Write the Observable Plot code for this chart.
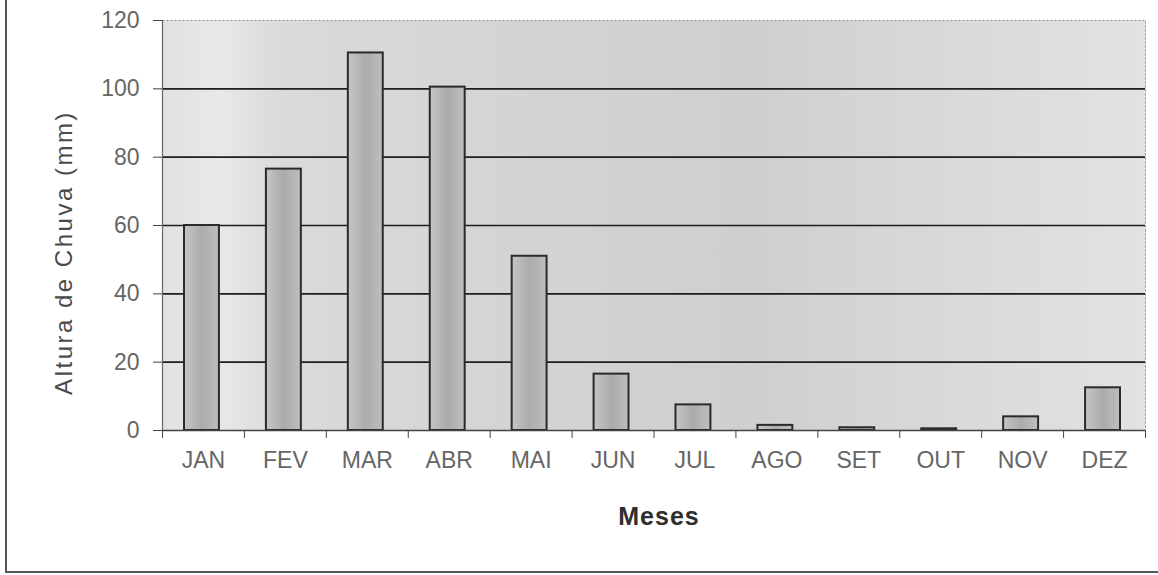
<!DOCTYPE html>
<html>
<head>
<meta charset="utf-8">
<script src="https://cdn.jsdelivr.net/npm/d3@7"></script>
<script src="https://cdn.jsdelivr.net/npm/@observablehq/plot@0.6"></script>
<style>
  html, body { margin: 0; padding: 0; background: #fff; }
  #wrap { position: relative; width: 1158px; height: 575px; overflow: hidden; }
  #border { position: absolute; left: 5px; top: -2px; width: 1160px; height: 573px;
            border-left: 2px solid #555; border-bottom: 2px solid #555; pointer-events: none; }
  svg { font-family: "Liberation Sans", Arial, sans-serif; }
</style>
</head>
<body>
<div id="wrap"><div id="border"></div></div>
<script>
const months = ["JAN","FEV","MAR","ABR","MAI","JUN","JUL","AGO","SET","OUT","NOV","DEZ"];
const rainfall = [60, 76.5, 110.5, 100.5, 51, 16.5, 7.5, 1.5, 0.8, 0.5, 4, 12.5];
const yTicks = [0, 20, 40, 60, 80, 100, 120];
const gridValues = [20, 40, 60, 80, 100];
const yLabel = "Altura de Chuva (mm)";
const xLabel = "Meses";

const data = months.map((m, i) => ({month: m, idx: i, value: rainfall[i]}));

const defs = () => {
  const d = d3.create("svg:defs");
  const bg = d.append("linearGradient").attr("id", "bg").attr("x1", "0").attr("x2", "1").attr("y1", "0").attr("y2", "0");
  [["0%", "#e2e2e2"], ["6%", "#e8e8e8"], ["12%", "#dadada"], ["35%", "#d4d4d4"], ["60%", "#cfcfcf"], ["78%", "#d8d8d8"], ["100%", "#e2e2e2"]]
    .forEach(([o, c]) => bg.append("stop").attr("offset", o).attr("stop-color", c));
  const bar = d.append("linearGradient").attr("id", "bar").attr("x1", "0").attr("x2", "1").attr("y1", "0").attr("y2", "0");
  [["0%", "#c6c6c6"], ["50%", "#ababab"], ["100%", "#bebebe"]]
    .forEach(([o, c]) => bar.append("stop").attr("offset", o).attr("stop-color", c));
  return d.node();
};

const chart = Plot.plot({
  width: 1158,
  height: 575,
  marginLeft: 162,
  marginRight: 13,
  marginTop: 20,
  marginBottom: 145,
  style: {fontFamily: "Liberation Sans, Arial, sans-serif", background: "transparent"},
  x: {domain: [0, 12], axis: null},
  y: {domain: [0, 120], axis: null},
  marks: [
    defs,
    Plot.frame({fill: "url(#bg)", stroke: "#8a8a8a", strokeDasharray: "2,2"}),
    Plot.ruleY(gridValues, {stroke: "#1e1e1e", strokeWidth: 1.6}),
    Plot.rectY(data, {x1: d => d.idx, x2: d => d.idx + 1, y: "value",
      insetLeft: 22, insetRight: 25, fill: "url(#bar)", stroke: "#2a2a2a", strokeWidth: 2}),
    Plot.ruleY([0], {stroke: "#444", strokeWidth: 1.5}),
    Plot.ruleX([0], {stroke: "#666", strokeWidth: 1.2}),
    Plot.axisY({ticks: yTicks, label: null, tickSize: 9, tickPadding: 14, fontSize: 23, color: "#666", stroke: "#444"}),
    Plot.axisX({ticks: d3.range(13), label: null, tickSize: 8, tickFormat: () => "", stroke: "#444"}),
    Plot.axisX({ticks: months.map((m, i) => i + 0.5), label: null, tickSize: 0, tickPadding: 21,
      tickFormat: d => months[Math.floor(d)], fontSize: 23, color: "#666"}),
    Plot.text([yLabel], {frameAnchor: "left", textAnchor: "middle", rotate: -90, dx: -98, dy: 27,
      fontSize: 24, fill: "#4a4a4a"}),
    Plot.text([xLabel], {frameAnchor: "bottom", dx: 5, dy: 94, fontSize: 25, fill: "#2e2e2e", fontWeight: "bold"})
  ]
});
d3.select(chart).selectAll("text").filter(function() { return this.textContent === yLabel; })
  .style("letter-spacing", "2.5px");
d3.select(chart).selectAll("text").filter(function() { return this.textContent === xLabel; })
  .style("letter-spacing", "1px");
document.getElementById("wrap").prepend(chart);
</script>
</body>
</html>
